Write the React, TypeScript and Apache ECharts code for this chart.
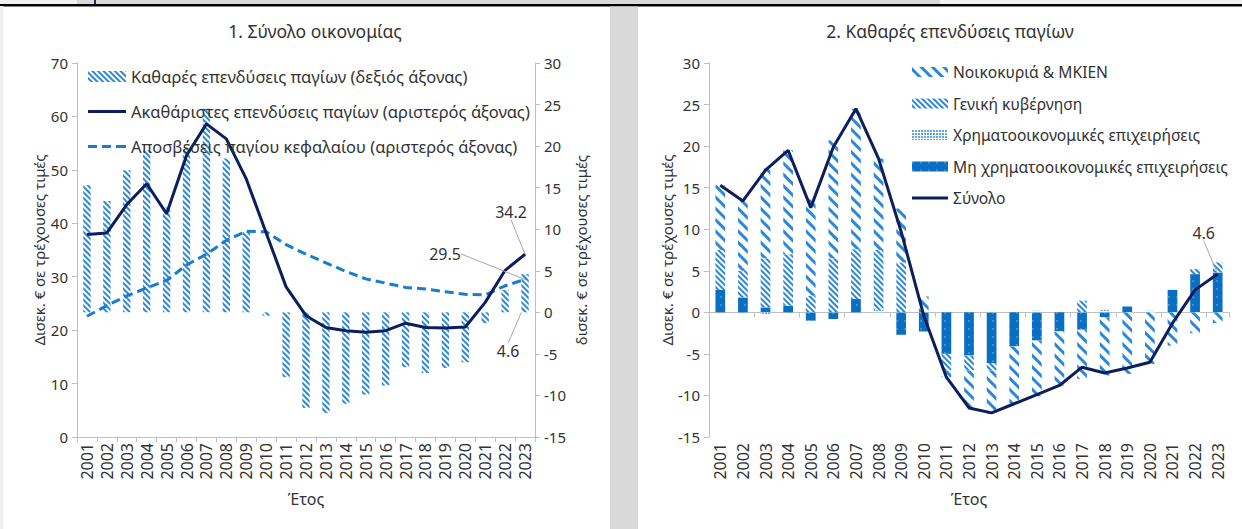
import React, { useEffect, useRef } from "react";
import * as echarts from "echarts";

const years = ["2001","2002","2003","2004","2005","2006","2007","2008","2009","2010","2011","2012","2013","2014","2015","2016","2017","2018","2019","2020","2021","2022","2023"];

// Chart 1 (left axis: gross investment & depreciation; right axis: net investment)
const netInvestment = [15.3, 13.4, 17.1, 19.5, 12.6, 19.9, 24.5, 18.5, 9.7, -0.4, -7.8, -11.5, -12.1, -11.0, -9.9, -8.8, -6.6, -7.3, -6.7, -6.0, -1.3, 2.7, 4.6];
const grossInvestment = [37.9, 38.2, 43.5, 47.4, 41.8, 52.7, 58.6, 55.8, 48.3, 38.2, 28.1, 22.7, 20.5, 19.9, 19.6, 19.9, 21.3, 20.5, 20.4, 20.6, 25.2, 31.2, 34.2];
const depreciation = [22.6, 24.6, 26.4, 27.9, 29.3, 32.2, 34.2, 36.8, 38.5, 38.4, 36.0, 34.2, 32.6, 31.0, 29.6, 28.8, 28.0, 27.7, 27.2, 26.7, 26.6, 28.3, 29.5];

// Chart 2 (net investment by sector)
const households = [7.8, 8.4, 10.8, 12.5, 11.6, 14.2, 16.9, 11.0, 6.5, 1.9, -0.8, -4.5, -5.2, -6.9, -6.7, -6.5, -5.9, -7.0, -7.4, -6.2, -4.0, -2.5, -1.3];
const government = [4.8, 3.2, 5.9, 6.2, 2.0, 6.5, 6.0, 7.2, 6.0, 0, -2.0, -1.8, -0.9, 0, 0, 0, 1.4, 0, 0, 0, 0, 0.6, 1.2];
const financialCorps = [0, 0, -0.2, 0, 0, 0, 0, 0.3, 0, 0, 0, 0, 0.1, 0, 0.2, 0, 0, 0.3, 0, 0.2, 0, 0, 0];
const nonFinancialCorps = [2.7, 1.8, 0.6, 0.8, -1.0, -0.8, 1.6, 0, -2.7, -2.3, -5.0, -5.2, -6.1, -4.1, -3.4, -2.3, -2.1, -0.6, 0.7, 0, 2.7, 4.6, 4.8];

const N_NET = "Καθαρές επενδύσεις παγίων (δεξιός άξονας)";
const N_GROSS = "Ακαθάριστες επενδύσεις παγίων (αριστερός άξονας)";
const N_DEP = "Αποσβέσεις παγίου κεφαλαίου (αριστερός άξονας)";
const N_HH = "Νοικοκυριά & ΜΚΙΕΝ";
const N_GOV = "Γενική κυβέρνηση";
const N_FIN = "Χρηματοοικονομικές επιχειρήσεις";
const N_NFC = "Μη χρηματοοικονομικές επιχειρήσεις";
const N_TOT = "Σύνολο";

const FONT = "'Noto Sans', 'DejaVu Sans', sans-serif";
const TEXT = "#333333";
const AXIS = "#bfbfbf";
const NAVY = "#0c1f5c";
const BLUE = "#2b88d9";
const DASH = "#1a7bd0";
const SOLID = "#0a6fc2";
const LAST = years.length - 1;

const ICON_SOLID = "path://M0,0H38V3H0Z";
const ICON_DASH = "path://M0,0H9V3H0Z M14,0H23V3H14Z M28,0H38V3H28Z";

const stripes = (thick: number, gap: number) => ({
  symbol: "rect",
  symbolSize: 1,
  color: BLUE,
  dashArrayX: [1, 0],
  dashArrayY: [thick, gap],
  rotation: Math.PI / 4,
});

const withLastLabel = (arr: number[], extra: any = {}) =>
  arr.map((v, i) => (i === LAST ? { value: v, label: { show: true }, ...extra } : v));

const txt = { fontFamily: FONT, color: TEXT, fontSize: 15 };

export default function App() {
  const ref = useRef<HTMLDivElement>(null);
  useEffect(() => {
    if (!ref.current) return;
    const chart = echarts.init(ref.current, undefined, { renderer: "svg" });
    const G1 = { left: 77, top: 63, width: 458, height: 374 };
    const G2 = { left: 709, top: 63, width: 520, height: 374 };
    const axisLine = { show: true, lineStyle: { color: AXIS, width: 1 } };
    const axisTick = { show: true, length: 5, lineStyle: { color: AXIS } };
    const catLabel = { ...txt, fontSize: 16, rotate: 90, margin: 6, interval: 0 };
    const labelLine = { show: true, lineStyle: { color: "#a6a6a6", width: 1 } };
    const dataLabel = { show: false, position: "top", fontSize: 16, color: TEXT, fontFamily: FONT };
    const titleStyle = { ...txt, fontSize: 17.5, fontWeight: "normal" };

    chart.setOption({
      animation: false,
      backgroundColor: "#ffffff",
      textStyle: { fontFamily: FONT },
      title: [
        { text: "1. Σύνολο οικονομίας", left: 310, top: 17, textAlign: "center", textStyle: titleStyle },
        { text: "2. Καθαρές επενδύσεις παγίων", left: 945, top: 17, textAlign: "center", textStyle: titleStyle },
      ],
      legend: [
        {
          orient: "vertical", left: 83, top: 63, itemWidth: 38, itemHeight: 11, itemGap: 18,
          textStyle: { ...txt, fontSize: 16.5 },
          data: [{ name: N_NET, icon: "rect" }, { name: N_GROSS, icon: ICON_SOLID }, { name: N_DEP, icon: ICON_DASH }],
        },
        {
          orient: "vertical", left: 907, top: 59, itemWidth: 36, itemHeight: 10, itemGap: 15.5,
          textStyle: { ...txt, fontSize: 15.6 },
          data: [
            { name: N_HH, icon: "rect" }, { name: N_GOV, icon: "rect" }, { name: N_FIN, icon: "rect" },
            { name: N_NFC, icon: "rect" }, { name: N_TOT, icon: ICON_SOLID },
          ],
        },
      ],
      grid: [G1, G2, G2],
      xAxis: [
        {
          gridIndex: 0, type: "category", data: years,
          axisLine: { ...axisLine, onZero: false }, axisTick, axisLabel: catLabel,
          name: "Έτος", nameLocation: "middle", nameGap: 54, nameTextStyle: { ...txt, fontSize: 16 },
        },
        {
          gridIndex: 1, type: "category", data: years,
          axisLine: { show: false, onZero: false }, axisTick: { show: false }, axisLabel: catLabel,
          name: "Έτος", nameLocation: "middle", nameGap: 54, nameTextStyle: { ...txt, fontSize: 16 },
        },
        {
          gridIndex: 2, type: "category", data: years,
          axisLine: { ...axisLine, onZero: true }, axisTick, axisLabel: { show: false },
        },
      ],
      yAxis: [
        {
          gridIndex: 0, type: "value", position: "left", min: 0, max: 70, interval: 10,
          axisLine, axisTick, splitLine: { show: false }, axisLabel: { ...txt, margin: 9 },
          name: "Δισεκ. € σε τρέχουσες τιμές", nameLocation: "middle", nameGap: 29, nameTextStyle: txt,
        },
        {
          gridIndex: 0, type: "value", position: "right", min: -15, max: 30, interval: 5,
          axisLine, axisTick, splitLine: { show: false }, axisLabel: { ...txt, margin: 9 },
          name: "δισεκ. € σε τρέχουσες τιμές", nameLocation: "middle", nameGap: 38, nameTextStyle: txt,
        },
        {
          gridIndex: 1, type: "value", position: "left", min: -15, max: 30, interval: 5,
          axisLine, axisTick, splitLine: { show: false }, axisLabel: { ...txt, margin: 9 },
          name: "Δισεκ. € σε τρέχουσες τιμές", nameLocation: "middle", nameGap: 33, nameTextStyle: txt,
        },
        { gridIndex: 2, type: "value", min: -15, max: 30, interval: 5, show: false },
      ],
      series: [
        {
          name: N_NET, type: "bar", xAxisIndex: 0, yAxisIndex: 1, barWidth: "37%",
          data: withLastLabel(netInvestment),
          itemStyle: { color: "#ffffff", decal: stripes(2, 1.6) },
          label: dataLabel, labelLine,
          labelLayout: (p: any) => (p.dataIndex === LAST ? { dx: -17, dy: 90 } : {}),
        },
        {
          name: N_DEP, type: "line", xAxisIndex: 0, yAxisIndex: 0, symbol: "none",
          data: withLastLabel(depreciation, { symbol: "circle", symbolSize: 1 }),
          lineStyle: { color: DASH, width: 3, type: [9, 5] }, itemStyle: { color: DASH },
          label: dataLabel, labelLine,
          labelLayout: (p: any) => (p.dataIndex === LAST ? { dx: -80, dy: -12 } : {}),
        },
        {
          name: N_GROSS, type: "line", xAxisIndex: 0, yAxisIndex: 0, symbol: "none",
          data: withLastLabel(grossInvestment, { symbol: "circle", symbolSize: 1 }),
          lineStyle: { color: NAVY, width: 3 }, itemStyle: { color: NAVY },
          label: dataLabel, labelLine,
          labelLayout: (p: any) => (p.dataIndex === LAST ? { dx: -14, dy: -29 } : {}),
        },
        {
          name: N_NFC, type: "bar", stack: "sector", xAxisIndex: 1, yAxisIndex: 2, barWidth: "43%",
          data: nonFinancialCorps,
          itemStyle: {
            color: SOLID,
            decal: { symbol: "rect", symbolSize: 0.5, color: "rgba(255,255,255,0.85)", dashArrayX: [2, 6], dashArrayY: [2, 6] },
          },
        },
        {
          name: N_FIN, type: "bar", stack: "sector", xAxisIndex: 1, yAxisIndex: 2, barWidth: "43%",
          data: financialCorps,
          itemStyle: {
            color: "#ffffff",
            decal: { symbol: "rect", symbolSize: 1, color: "#5ea8e8", dashArrayX: [2, 1], dashArrayY: [2, 1] },
          },
        },
        {
          name: N_GOV, type: "bar", stack: "sector", xAxisIndex: 1, yAxisIndex: 2, barWidth: "43%",
          data: government,
          itemStyle: { color: "#ffffff", decal: stripes(1.8, 1.6) },
        },
        {
          name: N_HH, type: "bar", stack: "sector", xAxisIndex: 1, yAxisIndex: 2, barWidth: "43%",
          data: households,
          itemStyle: { color: "#ffffff", decal: stripes(3, 4.5) },
        },
        {
          name: N_TOT, type: "line", xAxisIndex: 1, yAxisIndex: 2, symbol: "none",
          data: withLastLabel(netInvestment, { symbol: "circle", symbolSize: 1 }),
          lineStyle: { color: NAVY, width: 3 }, itemStyle: { color: NAVY },
          label: dataLabel, labelLine,
          labelLayout: (p: any) => (p.dataIndex === LAST ? { dx: -14, dy: -28 } : {}),
        },
      ],
      graphic: [
        { type: "rect", silent: true, shape: { x: 0, y: 0, width: 1242, height: 4 }, style: { fill: "#f1f1f1" } },
        { type: "rect", silent: true, shape: { x: 77, y: 0, width: 863, height: 4 }, style: { fill: "#d9d9d9" } },
        { type: "rect", silent: true, shape: { x: 94, y: 0, width: 2, height: 5 }, style: { fill: "#1f2d5c" } },
        { type: "rect", silent: true, shape: { x: 0, y: 4, width: 1242, height: 2.5 }, style: { fill: "#000000" } },
        { type: "rect", silent: true, shape: { x: 0, y: 6, width: 3.5, height: 523 }, style: { fill: "#efefef" } },
        { type: "rect", silent: true, shape: { x: 610, y: 6.5, width: 28, height: 523 }, style: { fill: "#d9d9d9" } },
      ],
    });
    return () => chart.dispose();
  }, []);
  return <div ref={ref} style={{ position: "absolute", left: 0, top: 0, width: 1242, height: 529 }} />;
}
